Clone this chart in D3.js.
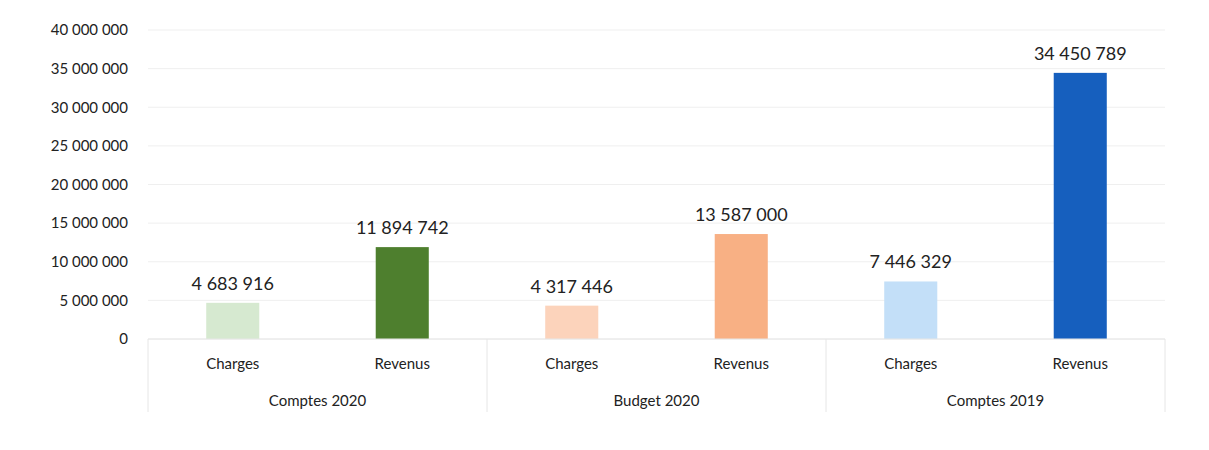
<!DOCTYPE html>
<html>
<head>
<meta charset="utf-8">
<script src="https://cdn.jsdelivr.net/npm/d3@7"></script>
<style>
  body { margin: 0; background: #fff; }
  svg text { font-family: Lato, "Open Sans", sans-serif; fill: #222; }
  .tick text { font-size: 15px; }
  .valueLabel { font-size: 18px; }
  .catLabel { font-size: 15px; }
  .groupLabel { font-size: 15px; }
</style>
</head>
<body>
<svg id="chart"></svg>
<script>
// data
var groups = ["Comptes 2020", "Budget 2020", "Comptes 2019"];
var subcats = ["Charges", "Revenus"];
var charges = [4683916, 4317446, 7446329];
var revenus = [11894742, 13587000, 34450789];
var barColors = [
  ["#d6e9d0", "#4e7f2e"],
  ["#fcd3bb", "#f8b084"],
  ["#c3dff8", "#165fbe"]
];
var yTicks = [0, 5000000, 10000000, 15000000, 20000000, 25000000, 30000000, 35000000, 40000000];

var screen = { width: 1209, height: 450 };
var margins = { top: 30, left: 148, right: 44, bottom: 111 };
var graph = {
  width: screen.width - margins.left - margins.right,
  height: screen.height - margins.top - margins.bottom
};

var fmt = function (v) {
  return d3.format(",")(v).replace(/,/g, " ");
};

var svg = d3.select("#chart").attr("width", screen.width).attr("height", screen.height);

var g = svg.append("g")
  .attr("transform", "translate(" + margins.left + "," + margins.top + ")");

var xGroup = d3.scaleBand().domain(groups).range([0, graph.width]);
var xSub = d3.scaleBand().domain(subcats).range([0, xGroup.bandwidth()]).paddingInner(0.687).paddingOuter(0.3435);
var yScale = d3.scaleLinear().domain([0, 40000000]).range([graph.height, 0]);

// gridlines
g.append("g")
  .selectAll("line")
  .data(yTicks)
  .enter()
  .append("line")
  .attr("x1", 0)
  .attr("x2", graph.width)
  .attr("y1", function (d) { return yScale(d); })
  .attr("y2", function (d) { return yScale(d); })
  .attr("stroke", "#efefef")
  .attr("stroke-width", 1);

// y axis, labels only
var yAxis = d3.axisLeft(yScale).tickValues(yTicks).tickSize(0).tickPadding(20).tickFormat(fmt);
g.append("g")
  .call(yAxis)
  .call(function (a) { a.select(".domain").remove(); })
  .selectAll("text")
  .attr("fill", "#222");

// bars
var rows = [];
groups.forEach(function (grp, i) {
  rows.push({ group: grp, sub: "Charges", value: charges[i], color: barColors[i][0] });
  rows.push({ group: grp, sub: "Revenus", value: revenus[i], color: barColors[i][1] });
});

g.selectAll("rect.bar")
  .data(rows)
  .enter()
  .append("rect")
  .classed("bar", true)
  .attr("x", function (d) { return xGroup(d.group) + xSub(d.sub); })
  .attr("y", function (d) { return yScale(d.value); })
  .attr("width", xSub.bandwidth())
  .attr("height", function (d) { return graph.height - yScale(d.value); })
  .attr("fill", function (d) { return d.color; });

g.selectAll("text.valueLabel")
  .data(rows)
  .enter()
  .append("text")
  .classed("valueLabel", true)
  .attr("text-anchor", "middle")
  .attr("x", function (d) { return xGroup(d.group) + xSub(d.sub) + xSub.bandwidth() / 2; })
  .attr("y", function (d) { return yScale(d.value) - 13; })
  .text(function (d) { return fmt(d.value); });

// category axis
g.append("line")
  .attr("x1", 0).attr("x2", graph.width)
  .attr("y1", graph.height).attr("y2", graph.height)
  .attr("stroke", "#e6e6e6");

var seps = groups.map(function (grp) { return xGroup(grp); }).concat([graph.width]);
g.selectAll("line.sep")
  .data(seps)
  .enter()
  .append("line")
  .classed("sep", true)
  .attr("x1", function (d) { return d; })
  .attr("x2", function (d) { return d; })
  .attr("y1", graph.height)
  .attr("y2", graph.height + 73)
  .attr("stroke", "#e6e6e6");

g.selectAll("text.catLabel")
  .data(rows)
  .enter()
  .append("text")
  .classed("catLabel", true)
  .attr("text-anchor", "middle")
  .attr("x", function (d) { return xGroup(d.group) + xSub(d.sub) + xSub.bandwidth() / 2; })
  .attr("y", graph.height + 30)
  .text(function (d) { return d.sub; });

g.selectAll("text.groupLabel")
  .data(groups)
  .enter()
  .append("text")
  .classed("groupLabel", true)
  .attr("text-anchor", "middle")
  .attr("x", function (d) { return xGroup(d) + xGroup.bandwidth() / 2; })
  .attr("y", graph.height + 67)
  .text(function (d) { return d; });
</script>
</body>
</html>
